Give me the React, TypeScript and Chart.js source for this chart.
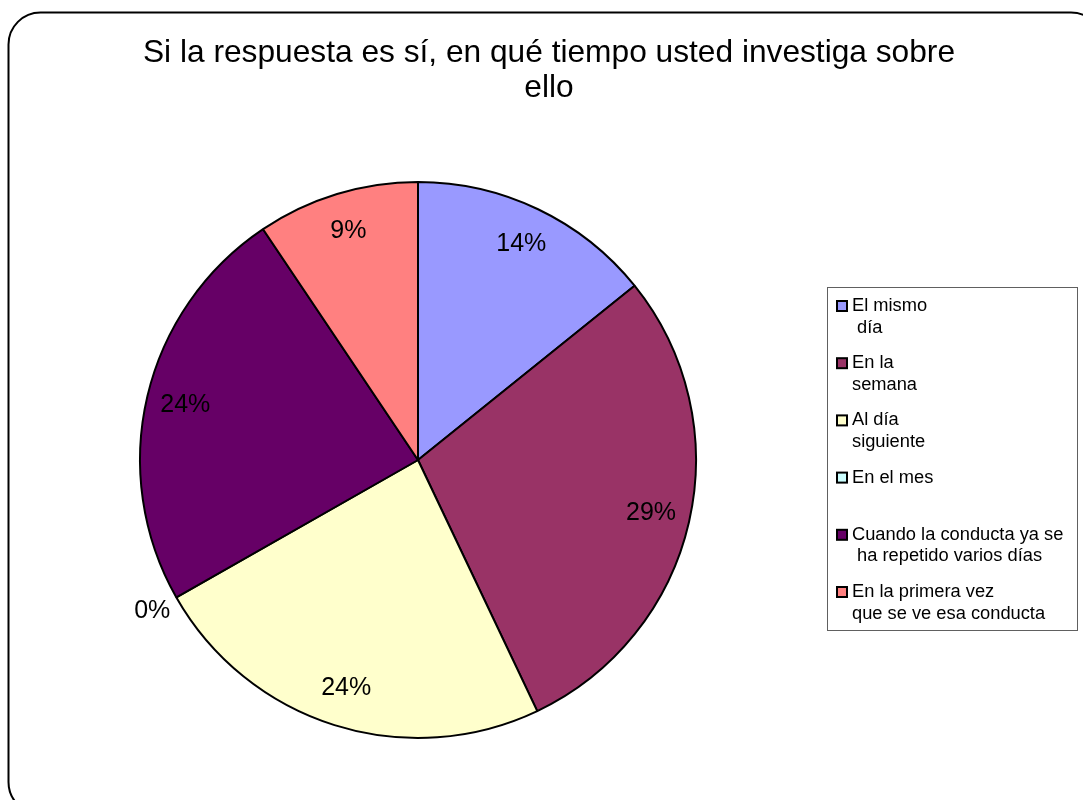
import React, { useEffect, useRef } from "react";
import { Chart, registerables } from "chart.js";

Chart.register(...registerables);

const titleLines = ["Si la respuesta es sí, en qué tiempo usted investiga sobre", "ello"];
const categories: string[][] = [
  ["El mismo", " día"],
  ["En la", "semana"],
  ["Al día", "siguiente"],
  ["En el mes"],
  ["Cuando la conducta ya se", " ha repetido varios días"],
  ["En la primera vez", "que se ve esa conducta"],
];
const percentValues = [14.2, 28.7, 23.8, 0, 23.8, 9.4];
const sliceColors = ["#9999FF", "#993366", "#FFFFCC", "#CCFFFF", "#660066", "#FF8080"];

const FONT = "'Liberation Sans', Arial, sans-serif";

const decorPlugin = {
  id: "decor",
  beforeDraw(chart: any) {
    const ctx = chart.ctx;
    ctx.save();
    ctx.fillStyle = "#ffffff";
    ctx.fillRect(0, 0, chart.width, chart.height);
    const x = 8.5, y = 12.5, r = 32, right = 1103, bottom = 814;
    ctx.beginPath();
    ctx.moveTo(x + r, y);
    ctx.lineTo(right - r, y);
    ctx.arcTo(right, y, right, y + r, r);
    ctx.lineTo(right, bottom - r);
    ctx.arcTo(right, bottom, right - r, bottom, r);
    ctx.lineTo(x + r, bottom);
    ctx.arcTo(x, bottom, x, bottom - r, r);
    ctx.lineTo(x, y + r);
    ctx.arcTo(x, y, x + r, y, r);
    ctx.closePath();
    ctx.lineWidth = 2;
    ctx.strokeStyle = "#000000";
    ctx.stroke();
    ctx.restore();
  },
  afterDraw(chart: any) {
    const ctx = chart.ctx;
    ctx.save();
    ctx.fillStyle = "#000000";
    ctx.font = `31.7px ${FONT}`;
    ctx.textAlign = "center";
    ctx.textBaseline = "middle";
    titleLines.forEach((line, i) => ctx.fillText(line, 549, 53 + i * 35));

    const meta = chart.getDatasetMeta(0);
    const data = chart.data.datasets[0].data as number[];
    const total = data.reduce((a, b) => a + b, 0);
    ctx.font = `25px ${FONT}`;
    meta.data.forEach((arc: any, i: number) => {
      const p = arc.getProps(["x", "y", "startAngle", "endAngle", "outerRadius"], true);
      const mid = (p.startAngle + p.endAngle) / 2;
      const dist = data[i] > 0 ? p.outerRadius * 0.86 : p.outerRadius * 1.1;
      const lx = p.x + Math.cos(mid) * dist;
      const ly = p.y + Math.sin(mid) * dist;
      ctx.fillText(Math.round((data[i] / total) * 100) + "%", lx, ly);
    });

    const bx = 827.5, by = 287.5, bw = 250, bh = 343;
    ctx.fillStyle = "#ffffff";
    ctx.fillRect(bx, by, bw, bh);
    ctx.strokeStyle = "#606060";
    ctx.lineWidth = 1;
    ctx.strokeRect(bx, by, bw, bh);
    ctx.font = `18.3px ${FONT}`;
    ctx.textAlign = "left";
    ctx.textBaseline = "middle";
    const labels = chart.data.labels as string[][];
    const colors = chart.data.datasets[0].backgroundColor as string[];
    labels.forEach((lines, i) => {
      const y0 = 306 + i * 57.2;
      ctx.fillStyle = colors[i];
      ctx.fillRect(837, y0 - 5, 10, 10);
      ctx.strokeStyle = "#000000";
      ctx.lineWidth = 2;
      ctx.strokeRect(837, y0 - 5, 10, 10);
      ctx.fillStyle = "#000000";
      lines.forEach((ln, j) => ctx.fillText(ln, 852, y0 + j * 21.5));
    });
    ctx.restore();
  },
};

export default function App() {
  const canvasRef = useRef<HTMLCanvasElement | null>(null);

  useEffect(() => {
    const canvas = canvasRef.current;
    if (!canvas) return;
    const chart = new Chart(canvas, {
      type: "pie",
      data: {
        labels: categories,
        datasets: [
          {
            data: percentValues,
            backgroundColor: sliceColors,
            borderColor: "#000000",
            borderWidth: 2,
            hoverOffset: 0,
          },
        ],
      },
      options: {
        animation: false,
        responsive: false,
        events: [],
        layout: { padding: { left: 139, right: 386, top: 181, bottom: 61 } },
        plugins: {
          legend: { display: false },
          title: { display: false },
          tooltip: { enabled: false },
        },
      },
      plugins: [decorPlugin],
    });
    return () => chart.destroy();
  }, []);

  return (
    <div style={{ position: "fixed", left: 0, top: 0, width: 1083, height: 800, overflow: "hidden", background: "#fff" }}>
      <canvas ref={canvasRef} width={1083} height={800} style={{ display: "block", width: 1083, height: 800 }} />
    </div>
  );
}
